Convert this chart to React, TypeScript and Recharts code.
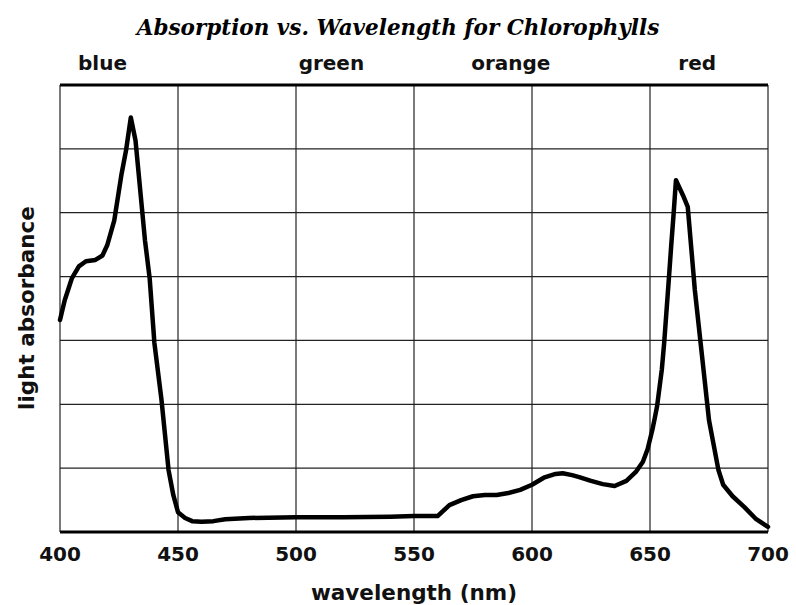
import React from 'react';
import { LineChart, Line, XAxis, YAxis, CartesianGrid } from 'recharts';

// wavelength (nm) and relative absorbance
const wavelength = [
  400, 402, 405, 408, 411, 415, 418, 420, 423, 426, 428, 430, 432, 434, 436, 438, 440, 443, 446, 448,
  450, 453, 456, 460, 465, 470, 480, 500, 520, 540, 550, 560, 565, 570, 575, 580, 585, 590, 595, 600,
  605, 610, 613, 617, 620, 625, 630, 635, 640, 644, 647, 649, 651, 652, 653, 655, 656, 658, 659, 660,
  661, 664, 666, 669, 672, 675, 677, 679, 681, 685, 690, 695, 700,
];
const absorbance = [
  3.32, 3.63, 3.97, 4.16, 4.24, 4.26, 4.33, 4.49, 4.88, 5.59, 5.98, 6.49, 6.13, 5.35, 4.57, 3.97, 2.96, 2.07, 0.97, 0.58,
  0.31, 0.22, 0.17, 0.16, 0.17, 0.2, 0.22, 0.23, 0.23, 0.24, 0.25, 0.25, 0.42, 0.5, 0.56, 0.58, 0.58, 0.61, 0.66, 0.74,
  0.85, 0.91, 0.92, 0.89, 0.86, 0.8, 0.75, 0.72, 0.8, 0.94, 1.1, 1.3, 1.6, 1.78, 1.97, 2.54, 2.96, 3.97, 4.49, 4.98,
  5.51, 5.27, 5.09, 3.79, 2.77, 1.75, 1.36, 0.97, 0.74, 0.56, 0.39, 0.2, 0.08,
];
const xTicks = [400, 450, 500, 550, 600, 650, 700];
const yTicks = [0, 1, 2, 3, 4, 5, 6, 7];
const colorBands = ['blue', 'green', 'orange', 'red'];
const colorBandAt = [418, 515, 591, 670];

const data = wavelength.map((w, i) => ({ w, a: absorbance[i] }));

const sans = '"DejaVu Sans", Verdana, sans-serif';

export default function App() {
  return (
    <div style={{ position: 'absolute', left: 0, top: 0, width: 796, height: 605, background: '#fff' }}>
      <div
        style={{
          position: 'absolute', left: 0, top: 15, width: 796, textAlign: 'center',
          fontFamily: '"DejaVu Serif", serif', fontStyle: 'italic', fontWeight: 'bold', fontSize: 21.5,
        }}
      >
        Absorption vs. Wavelength for Chlorophylls
      </div>
      <LineChart width={796} height={605} data={data} margin={{ top: 55, right: 28, bottom: 33, left: 60 }}>
        <CartesianGrid stroke="#222" strokeWidth={1.2} />
        <XAxis
          dataKey="w"
          type="number"
          domain={[400, 700]}
          ticks={xTicks}
          height={40}
          tickLine={false}
          tickMargin={9}
          axisLine={{ stroke: '#000', strokeWidth: 3 }}
          tick={{ fill: '#111', fontSize: 20, fontWeight: 'bold', fontFamily: sans }}
        />
        <XAxis
          xAxisId="top"
          orientation="top"
          dataKey="w"
          type="number"
          domain={[400, 700]}
          ticks={colorBandAt}
          tickFormatter={(v: number) => colorBands[colorBandAt.indexOf(v)] ?? ''}
          height={30}
          tickLine={false}
          tickMargin={9}
          axisLine={{ stroke: '#000', strokeWidth: 3 }}
          tick={{ fill: '#111', fontSize: 20, fontWeight: 'bold', fontFamily: sans }}
        />
        <YAxis
          type="number"
          domain={[0, 7]}
          ticks={yTicks}
          width={0}
          tickFormatter={() => ''}
          tickLine={false}
          axisLine={{ stroke: '#000', strokeWidth: 3 }}
        />
        <YAxis
          yAxisId="right"
          orientation="right"
          type="number"
          domain={[0, 7]}
          ticks={yTicks}
          width={0}
          tickFormatter={() => ''}
          tickLine={false}
          axisLine={{ stroke: '#000', strokeWidth: 3 }}
        />
        <Line
          type="linear"
          dataKey="a"
          stroke="#000"
          strokeWidth={4.5}
          strokeLinejoin="round"
          strokeLinecap="round"
          dot={false}
          isAnimationActive={false}
        />
      </LineChart>
      <div
        style={{
          position: 'absolute', left: 0, top: 580, width: 828, textAlign: 'center',
          fontFamily: sans, fontWeight: 'bold', fontSize: 21.5, color: '#111',
        }}
      >
        wavelength (nm)
      </div>
      <div
        style={{
          position: 'absolute', left: 26, top: 308, transform: 'translate(-50%, -50%) rotate(-90deg)',
          whiteSpace: 'nowrap', fontFamily: sans, fontWeight: 'bold', fontSize: 21.5, color: '#111',
        }}
      >
        light absorbance
      </div>
    </div>
  );
}
